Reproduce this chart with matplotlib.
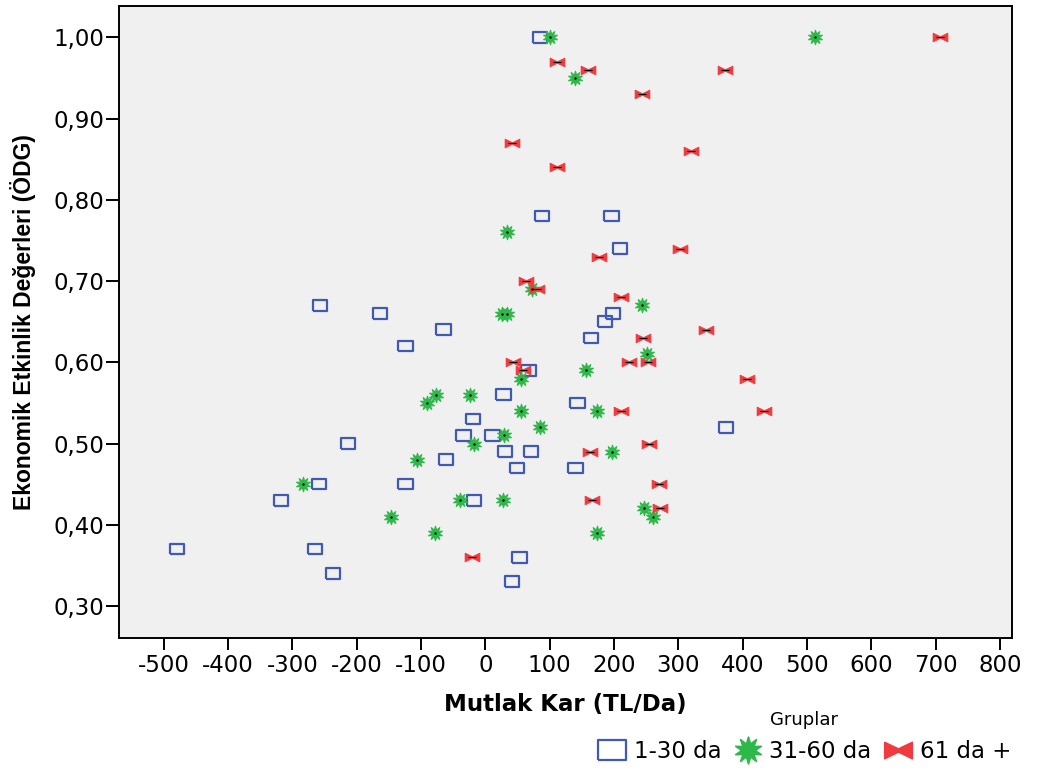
import matplotlib
matplotlib.use("Agg")
import matplotlib.pyplot as plt
from matplotlib.lines import Line2D
from matplotlib.ticker import FuncFormatter

# gruplar: 1-30 da
g1_x = [85, 88, 196, 209, -257, -164, 198, 186, -65, 164, -124, 67, 28, 143, -19, 374,
        -34, 11, -214, 30, 71, -61, 49, 140, -258, -124, -318, -18, -479, -265, -237, 53, 41]
g1_y = [1.00, 0.78, 0.78, 0.74, 0.67, 0.66, 0.66, 0.65, 0.64, 0.63, 0.62, 0.59, 0.56, 0.55, 0.53, 0.52,
        0.51, 0.51, 0.50, 0.49, 0.49, 0.48, 0.47, 0.47, 0.45, 0.45, 0.43, 0.43, 0.37, 0.37, 0.34, 0.36, 0.33]

# 31-60 da
g2_x = [100, 512, 139, 34, 26, 33, 72, 243, 251, 156, 55, -77, -24, -91, 55, 174, 85, 29,
        -17, 197, -106, -283, -40, 28, 246, 261, -146, -79, 173]
g2_y = [1.00, 1.00, 0.95, 0.76, 0.66, 0.66, 0.69, 0.67, 0.61, 0.59, 0.58, 0.56, 0.56, 0.55, 0.54, 0.54, 0.52, 0.51,
        0.50, 0.49, 0.48, 0.45, 0.43, 0.43, 0.42, 0.41, 0.41, 0.39, 0.39]

# 61 da +
g3_x = [707, 112, 160, 372, 244, 41, 319, 111, 177, 303, 63, 80, 210, 343, 245, 223, 253, 43,
        59, 406, 211, 433, 255, 162, 270, 165, 271, -21]
g3_y = [1.00, 0.97, 0.96, 0.96, 0.93, 0.87, 0.86, 0.84, 0.73, 0.74, 0.70, 0.69, 0.68, 0.64, 0.63, 0.60, 0.60, 0.60,
        0.59, 0.58, 0.54, 0.54, 0.50, 0.49, 0.45, 0.43, 0.42, 0.36]

labels = ['1-30 da', '31-60 da', '61 da +']
x_ticks = list(range(-500, 801, 100))
y_ticks = [0.30, 0.40, 0.50, 0.60, 0.70, 0.80, 0.90, 1.00]

blue = '#3f5ab0'
green = '#2fb84a'
red = '#ef3b3f'

plt.rcParams['font.family'] = ['DejaVu Sans']
plt.rcParams['axes.unicode_minus'] = False

rect = [(-1, -0.75), (1, -0.75), (1, 0.75), (-1, 0.75), (-1, -0.75)]
bowtie = [(-1, 0.6), (0, 0.12), (1, 0.6), (1, -0.6), (0, -0.12), (-1, -0.6), (-1, 0.6)]
star = (10, 1, 0)

fig = plt.figure(figsize=(10.37, 7.71), dpi=100)
fig.patch.set_facecolor('white')
ax = fig.add_axes([0.115, 0.173, 0.861, 0.819])
ax.set_facecolor('#f0f0f0')

ax.scatter(g1_x, g1_y, marker=rect, s=105, facecolors='none', edgecolors=blue, linewidths=1.6, zorder=3)
ax.scatter(g2_x, g2_y, marker=star, s=110, color=green, linewidths=0.8, zorder=3)
ax.scatter(g2_x, g2_y, marker='o', s=3, color='black', linewidths=0, zorder=4)
ax.scatter(g3_x, g3_y, marker=bowtie, s=115, color=red, linewidths=0.5, zorder=3)
ax.scatter(g3_x, g3_y, marker='_', s=30, color='black', linewidths=0.8, zorder=4)

ax.set_xlim(-569, 818.6)
ax.set_ylim(0.261, 1.0385)
ax.set_xticks(x_ticks)
ax.set_yticks(y_ticks)
ax.yaxis.set_major_formatter(FuncFormatter(lambda v, p: f'{v:.2f}'.replace('.', ',')))
ax.tick_params(axis='x', length=8.6, width=1.4, pad=3, labelsize=16.5)
ax.tick_params(axis='y', length=9.5, width=1.4, pad=1, labelsize=16.5)
for sp in ax.spines.values():
    sp.set_linewidth(1.4)

ax.set_xlabel('Mutlak Kar (TL/Da)', fontsize=16.5, fontweight='bold', labelpad=12)
ax.set_ylabel('Ekonomik Etkinlik Değerleri (ÖDG)', fontsize=16.5, fontweight='bold',
              family=['Liberation Sans', 'DejaVu Sans'], labelpad=13)

handles = [
    Line2D([], [], marker=rect, markersize=20, markerfacecolor='none', markeredgecolor=blue,
           markeredgewidth=1.6, linestyle='none'),
    Line2D([], [], marker=star, markersize=20, color=green, linestyle='none'),
    Line2D([], [], marker=bowtie, markersize=20, color=red, linestyle='none'),
]
leg = fig.legend(handles, labels, title='Gruplar', ncol=3, frameon=False,
                 loc='center', bbox_to_anchor=(804 / 1037, 1 - 737 / 771),
                 fontsize=16.5, title_fontsize=13, handletextpad=0.3,
                 columnspacing=0.5, handlelength=1.3, borderpad=0)

fig.savefig('out.png', dpi=100)
